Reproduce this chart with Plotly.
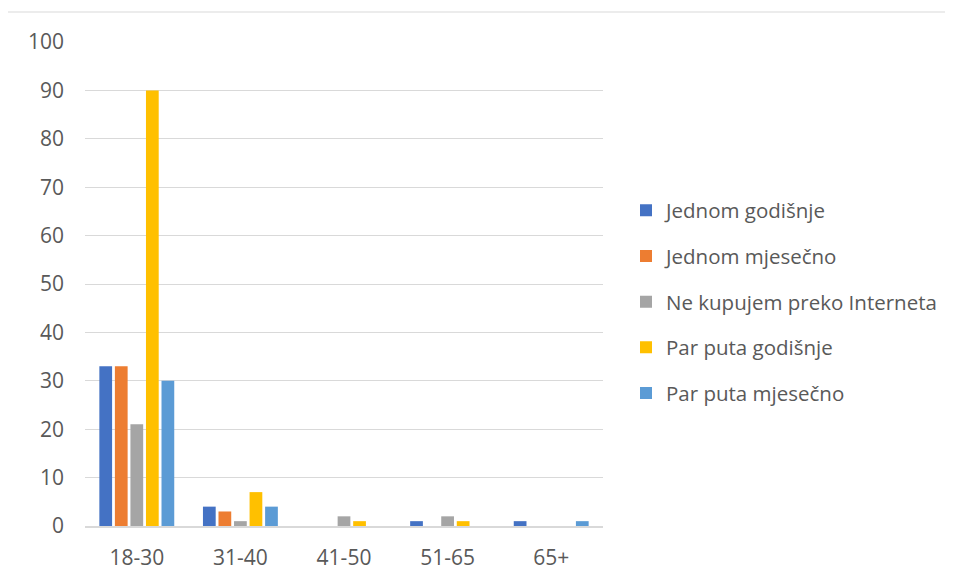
import plotly.graph_objects as go

categories = ["18-30", "31-40", "41-50", "51-65", "65+"]
series_names = ["Jednom godišnje", "Jednom mjesečno", "Ne kupujem preko Interneta",
                "Par puta godišnje", "Par puta mjesečno"]
jednom_godisnje = [33, 4, 0, 1, 1]
jednom_mjesecno = [33, 3, 0, 0, 0]
ne_kupujem = [21, 1, 2, 2, 0]
par_puta_godisnje = [90, 7, 1, 1, 0]
par_puta_mjesecno = [30, 4, 0, 0, 1]
series_values = [jednom_godisnje, jednom_mjesecno, ne_kupujem, par_puta_godisnje, par_puta_mjesecno]
colors = ["#4472C4", "#ED7D31", "#A5A5A5", "#FFC000", "#5B9BD5"]
y_ticks = [0, 10, 20, 30, 40, 50, 60, 70, 80, 90, 100]

fig = go.Figure()
for name, vals, col in zip(series_names, series_values, colors):
    fig.add_trace(go.Bar(x=categories, y=vals, name=name, marker_color=col,
                         marker_line_width=0, legendgroup=name))

# page has an 8px body margin offset
OFF = 8
W, H = 953, 581
L, R, T, B = 85 - OFF, 953 + OFF - 603, 42 - OFF, 581 + OFF - 526
pw, ph = W - L - R, H - T - B
x0 = (4 - 85) / pw
y1 = (526 - 12) / ph

fig.update_layout(
    width=W, height=H,
    margin=dict(l=L, r=R, t=T, b=B, autoexpand=False),
    paper_bgcolor="white", plot_bgcolor="white",
    barmode="group", bargap=0.25, bargroupgap=0.18,
    font=dict(family="Open Sans, Liberation Sans, sans-serif", size=21, color="#595959"),
    legend=dict(x=1 + (626 - 603) / pw, xanchor="left", y=(526 - 302) / ph, yanchor="middle",
                font=dict(size=20.5, color="#595959"), tracegroupgap=16,
                itemwidth=30),
    showlegend=True,
    shapes=[dict(type="rect", xref="paper", yref="paper", x0=x0, x1=3, y0=-2, y1=y1,
                 line=dict(color="#d9d9d9", width=1), fillcolor="rgba(0,0,0,0)", layer="below")],
)
fig.update_xaxes(showgrid=False, showline=True, linecolor="#d9d9d9", linewidth=1.5,
                 ticks="", tickfont=dict(size=21, color="#595959"), ticklabelstandoff=12)
fig.update_yaxes(range=[0, 100], tickvals=y_ticks, showgrid=True, gridcolor="#d9d9d9",
                 gridwidth=1, zeroline=False, showline=False, ticks="",
                 tickfont=dict(size=21, color="#595959"), ticklabelstandoff=20)

fig.write_html("out.html")
